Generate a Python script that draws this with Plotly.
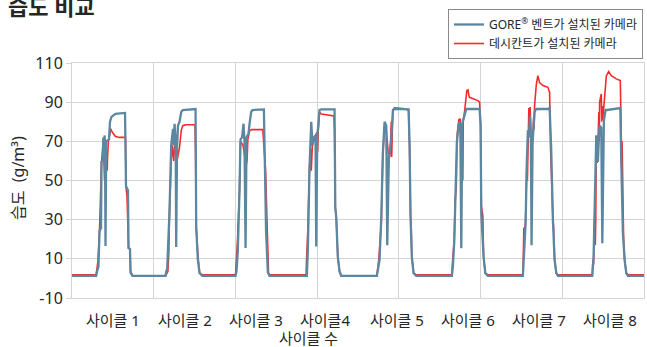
import plotly.graph_objects as go

# ---- data: time (arbitrary units, 100 per grid interval) and humidity (g/m3) ----
c1_gore_t = [0, 29.6, 30.6, 32.4, 33.7, 35.5, 36.1, 37.7, 38.3, 39.2, 39.8, 40.4, 41.0, 41.9, 45.3, 46.5, 48.3, 53.2, 64.9, 66.1, 68.5, 69.2, 71.0, 71.6, 74.1]
c1_gore_rh = [1.3, 1.3, 3.5, 6, 24.5, 25.5, 59.5, 60, 72, 61, 73, 70, 16.5, 70, 71, 80, 82.5, 84, 84.5, 47, 45, 15.5, 15, 3, 1.3]
c1_desi_t = [0, 29.6, 31.8, 33.7, 36.1, 38.3, 39.2, 39.8, 41.0, 43.1, 43.5, 44.7, 46.5, 47.1, 49.6, 53.2, 58.1, 65.5, 66.1, 67.3, 69.2, 71.0, 71.6, 74.1]
c1_desi_rh = [1.9, 1.9, 9, 24.5, 59, 70.5, 58, 50, 62, 55, 62, 71, 74, 76.5, 74.5, 72.5, 72, 72, 47, 42, 15.5, 15, 4, 1.3]

c2_gore_t = [114.4, 115.3, 116.5, 119.3, 120.6, 121.4, 123.6, 124.5, 125.5, 126.9, 127.5, 128.5, 129.7, 131.6, 133.7, 135.6, 151.2, 152.0, 154.0, 156.1, 159.4]
c2_gore_rh = [1.3, 3.5, 5, 34, 60, 68, 76.4, 68, 79, 70, 16, 66, 78, 80, 85, 86, 86.5, 26.4, 9.5, 2.8, 1.3]
c2_desi_t = [114.4, 117.3, 118.5, 119.3, 121.4, 122.5, 124.5, 125.5, 128.5, 131.6, 133.7, 135.6, 139.0, 150.5, 151.2, 152.0, 154.0, 154.5, 156.1, 159.4]
c2_desi_rh = [1.3, 3.5, 13, 34, 60, 68, 60, 68, 60, 67, 75.6, 78, 78.5, 78.5, 65, 26, 12, 9, 2.8, 1.9]

c3_gore_t = [200.1, 201.3, 202.9, 205.0, 206.2, 208.1, 209.9, 211.1, 212.4, 213.6, 216.0, 217.3, 219.3, 220.9, 234.8, 236.2, 237.5, 239.7, 241.7]
c3_gore_rh = [1.3, 3.5, 14, 45, 71, 72, 79, 70, 15.5, 72, 74, 79, 85, 86, 86.3, 55, 24, 3, 1.3]
c3_desi_t = [200.1, 202.6, 205.0, 206.2, 209.3, 213.2, 214.2, 215.2, 217.3, 219.7, 233.5, 235.6, 236.8, 239.3, 240.5, 241.7]
c3_desi_rh = [1.9, 20, 45, 70, 68, 58, 60, 71, 75.3, 76, 76, 63, 56, 20, 3, 1.9]

c4_gore_t = [287.4, 288.6, 290.7, 292.8, 294.4, 296.0, 298.0, 298.9, 300.1, 301.3, 302.9, 305.0, 321.3, 322.2, 323.4, 325.3, 327.4, 329.5]
c4_gore_rh = [1.3, 14, 57, 80, 68, 72, 73, 16.3, 72, 78, 86, 86.3, 86.3, 36.6, 31, 11, 3.6, 1.3]
c4_desi_t = [286.5, 287.0, 288.6, 290.7, 292.2, 292.8, 294.4, 300.1, 300.6, 301.3, 302.9, 305.0, 320.5, 321.3, 322.2, 323.4, 325.3, 327.4, 329.5]
c4_desi_rh = [1.9, 9, 25, 57, 66, 55, 70, 74.7, 64.6, 75, 85, 84, 83, 76, 36, 31, 11, 3.6, 1.3]

c5_gore_t = [373.1, 376.4, 378.5, 380.4, 382.5, 384.6, 385.8, 387.8, 389.5, 390.7, 392.7, 394.7, 411.9, 413.1, 414.3, 415.9, 418.0, 421.3]
c5_gore_rh = [1.3, 9.5, 31.5, 63.7, 80, 78, 17, 62, 66, 71, 85.8, 86.6, 86.3, 69, 31.5, 11, 2.7, 1.3]
c5_desi_t = [373.1, 375.5, 378.5, 380.4, 382.5, 384.6, 387.8, 389.5, 390.7, 391.2, 392.7, 394.7, 405.0, 411.9, 412.5, 413.1, 414.3, 415.0, 415.9, 418.0, 421.3]
c5_desi_rh = [1.3, 10, 28, 63, 78, 76, 60, 65, 80, 62, 86, 87.1, 86.8, 86, 74, 68, 32, 28, 11, 2.7, 1.9]

c6_gore_t = [464.9, 466.1, 467.8, 469.0, 470.3, 471.0, 473.4, 474.3, 475.2, 476.4, 477.6, 480.4, 482.5, 498.8, 500.0, 500.9, 503.7, 505.8, 508.9]
c6_gore_rh = [1.3, 6, 18.8, 40, 46.8, 69.7, 79, 80, 78, 15.4, 79, 84, 86.5, 86.5, 79, 33, 11, 2.7, 1.3]
c6_desi_t = [464.9, 465.4, 467.8, 469.0, 470.3, 471.0, 471.5, 473.4, 475.2, 476.4, 477.6, 478.3, 478.8, 480.4, 481.3, 482.5, 483.2, 484.5, 485.7, 486.5, 496.7, 498.8, 500.0, 500.9, 502.8, 503.7, 505.8, 508.9]
c6_desi_rh = [1.9, 6.5, 20, 40, 47, 68, 74, 81, 81.5, 60, 79, 50, 81, 85, 87.5, 93.4, 96, 96.3, 93.4, 92.5, 90.8, 90, 78, 37, 32, 11, 2.7, 1.9]

c7_gore_t = [551.8, 553.0, 555.1, 556.7, 557.9, 559.1, 560.6, 561.5, 562.4, 563.7, 564.9, 566.1, 567.3, 568.2, 582.4, 584.5, 586.5, 588.5, 590.6, 592.7, 594.6]
c7_gore_rh = [1.3, 10, 28, 61, 75.6, 72, 83, 74, 17, 70, 78, 85, 86, 86.5, 86.5, 87, 65.4, 30, 9.5, 2.7, 1.3]
c7_desi_t = [551.8, 553.0, 553.5, 555.1, 556.7, 557.3, 557.9, 559.1, 559.6, 560.6, 561.5, 563.7, 564.9, 565.5, 566.1, 568.2, 570.1, 571.4, 572.2, 576.3, 582.4, 584.5, 585.7, 588.5, 589.4, 590.6, 592.7, 594.6]
c7_desi_rh = [1.9, 26, 19, 30, 61, 50, 75, 87, 75, 87.5, 73, 70, 82, 76, 88.3, 99, 103.5, 101, 100, 98.5, 97.6, 95, 66, 31, 26, 9.5, 2.7, 1.9]

c8_gore_t = [636.7, 638.3, 639.5, 640.4, 641.6, 642.8, 643.6, 644.8, 645.7, 647.7, 649.0, 650.9, 653.0, 654.6, 671.0, 672.2, 674.2, 676.3, 678.3, 680.3, 700]
c8_gore_rh = [1.3, 11, 30, 45, 73, 66, 59.5, 72, 78, 77, 18, 80.7, 86, 86, 87, 59.5, 23, 9.5, 2.7, 1.3, 1.3]
c8_desi_t = [636.7, 637.5, 638.3, 639.5, 640.4, 641.0, 641.6, 642.8, 643.6, 644.8, 645.2, 645.7, 647.7, 648.3, 649.0, 649.6, 650.9, 653.9, 656.7, 660.0, 666.1, 671.0, 672.2, 672.7, 673.2, 674.2, 675.0, 676.3, 678.3, 680.3, 700]
c8_desi_rh = [1.9, 9.5, 7, 31, 17, 31, 73, 59, 72, 85, 70, 90, 94.2, 80, 88, 81, 88, 103.4, 105.6, 103.5, 101.9, 101, 72, 57, 70, 25, 21, 9.5, 2.7, 1.9, 1.9]

cycle_labels = ["사이클 1", "사이클 2", "사이클 3", "사이클4", "사이클 5", "사이클 6", "사이클 7", "사이클 8"]
cycle_centers = [50.7, 138.2, 225.2, 309.1, 397.9, 485.0, 572.0, 658.1]
y_ticks = [-10, 10, 30, 50, 70, 90, 110]
y_tick_text = ["-10", "10", "30", "50", "70", "90", "110"]
grid_ticks = [0, 100, 200, 300, 400, 500, 600, 700]

series_names = ["GORE<sup>®</sup> 벤트가 설치된 카메라", "데시칸트가 설치된 카메라"]

gore_t = c1_gore_t + c2_gore_t + c3_gore_t + c4_gore_t + c5_gore_t + c6_gore_t + c7_gore_t + c8_gore_t
gore_rh = c1_gore_rh + c2_gore_rh + c3_gore_rh + c4_gore_rh + c5_gore_rh + c6_gore_rh + c7_gore_rh + c8_gore_rh
desi_t = c1_desi_t + c2_desi_t + c3_desi_t + c4_desi_t + c5_desi_t + c6_desi_t + c7_desi_t + c8_desi_t
desi_rh = c1_desi_rh + c2_desi_rh + c3_desi_rh + c4_desi_rh + c5_desi_rh + c6_desi_rh + c7_desi_rh + c8_desi_rh

FONT = "Noto Sans, Noto Sans CJK KR, sans-serif"
GRID = "#d4d4d4"
BLUE = "#5b87a1"
RED = "#f52a2a"

fig = go.Figure()
fig.add_trace(go.Scatter(x=desi_t, y=desi_rh, mode="lines", name=series_names[1],
                         line=dict(color=RED, width=1.6)))
fig.add_trace(go.Scatter(x=gore_t, y=gore_rh, mode="lines", name=series_names[0],
                         line=dict(color=BLUE, width=2.3)))

W, H = 647, 347
L, R, T, B = 72, 3, 63, 49
ph = H - T - B
pw = W - L - R

annotations = []
for lab, cx in zip(cycle_labels, cycle_centers):
    annotations.append(dict(text=lab, x=cx, xref="x", y=-22 / ph, yref="paper",
                            yanchor="middle", xanchor="center", showarrow=False,
                            font=dict(family=FONT, size=15, color="#262626")))
annotations.append(dict(text="사이클 수", x=(308.5 - L) / pw, xref="paper", y=-40 / ph, yref="paper",
                        yanchor="middle", xanchor="center", showarrow=False,
                        font=dict(family=FONT, size=15, color="#262626")))
annotations.append(dict(text="습도  (g/m³)", x=(17.5 - L) / pw, xref="paper",
                        y=(298 - 178.5) / ph, yref="paper", textangle=-90,
                        xanchor="center", yanchor="middle", showarrow=False,
                        font=dict(family=FONT, size=16, color="#262626")))

fig.update_layout(
    width=W, height=H,
    margin=dict(l=L, r=R, t=T, b=B, autoexpand=False),
    paper_bgcolor="white", plot_bgcolor="white",
    font=dict(family=FONT, color="#262626"),
    title=dict(text="<b>습도 비교</b>", x=8 / W, xanchor="left", xref="container",
               y=1 - 7.5 / H, yanchor="middle", yref="container",
               font=dict(family=FONT, size=22, color="#262626")),
    showlegend=True,
    legend=dict(x=(643 - L) / pw, xanchor="right", y=1 + (T - 9) / ph, yanchor="top",
                traceorder="reversed", bordercolor="#8a8a8a", borderwidth=1,
                bgcolor="white", itemwidth=30,
                font=dict(family=FONT, size=12, color="#262626")),
    xaxis=dict(range=[0, 700], tickvals=grid_ticks, showticklabels=False,
               showgrid=True, gridcolor=GRID, gridwidth=1, zeroline=False,
               showline=True, linecolor=GRID, linewidth=1, mirror=True, ticks=""),
    yaxis=dict(range=[-10, 110], tickvals=y_ticks, ticktext=y_tick_text,
               showgrid=True, gridcolor=GRID,
               gridwidth=1, zeroline=False, showline=True, linecolor=GRID, linewidth=1,
               mirror=True, ticks="outside", ticklen=5, tickcolor=GRID,
               tickfont=dict(family=FONT, size=16, color="#262626")),
    annotations=annotations,
)

fig.write_html("out.html", config={"displayModeBar": False},
               post_script="document.body.style.margin='0';document.body.style.overflow='hidden';")
